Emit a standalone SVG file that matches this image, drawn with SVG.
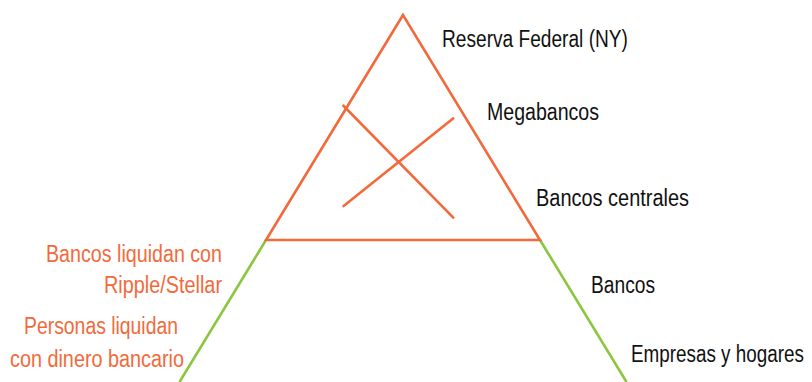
<svg xmlns="http://www.w3.org/2000/svg" width="812" height="382" viewBox="0 0 812 382">
<style>
.o{stroke:#F26A3B;stroke-width:2.6;fill:none;stroke-linecap:butt}
.g{stroke:#8CC63F;stroke-width:2.6;fill:none}
text{font-family:"Liberation Sans",Arial,sans-serif;font-size:23px}
.k{fill:#111}
.r{fill:#F26A3B}
</style>
<rect width="812" height="382" fill="#fff"/>
<g id="connectors">
<line class="g" x1="266" y1="240" x2="179.5" y2="382"/>
<line class="g" x1="540" y1="240" x2="626.5" y2="382"/>
<polygon class="o" points="403,15 266,240 540,240" stroke-linejoin="miter"/>
<line class="o" x1="342.7" y1="105" x2="454" y2="218.3"/>
<line class="o" x1="342.7" y1="206.7" x2="454" y2="117.7"/>
</g>
<g id="reserva-federal"><text class="k" x="442" y="47" textLength="186" lengthAdjust="spacingAndGlyphs">Reserva Federal (NY)</text></g>
<g id="megabancos"><text class="k" x="487" y="120" textLength="112" lengthAdjust="spacingAndGlyphs">Megabancos</text></g>
<g id="bancos-centrales"><text class="k" x="536" y="206" textLength="153" lengthAdjust="spacingAndGlyphs">Bancos centrales</text></g>
<g id="bancos"><text class="k" x="591" y="293" textLength="64" lengthAdjust="spacingAndGlyphs">Bancos</text></g>
<g id="empresas"><text class="k" transform="translate(631,362) scale(0.82,1)" x="0" y="0">Empresas y hogares</text></g>
<g id="bancos-liquidan">
<text class="r" x="46" y="262" textLength="176" lengthAdjust="spacingAndGlyphs">Bancos liquidan con</text>
<text class="r" x="104" y="293" textLength="118" lengthAdjust="spacingAndGlyphs">Ripple/Stellar</text>
</g>
<g id="personas-liquidan">
<text class="r" x="24" y="334" textLength="154" lengthAdjust="spacingAndGlyphs">Personas liquidan</text>
<text class="r" x="10" y="367" textLength="174" lengthAdjust="spacingAndGlyphs">con dinero bancario</text>
</g>
</svg>
